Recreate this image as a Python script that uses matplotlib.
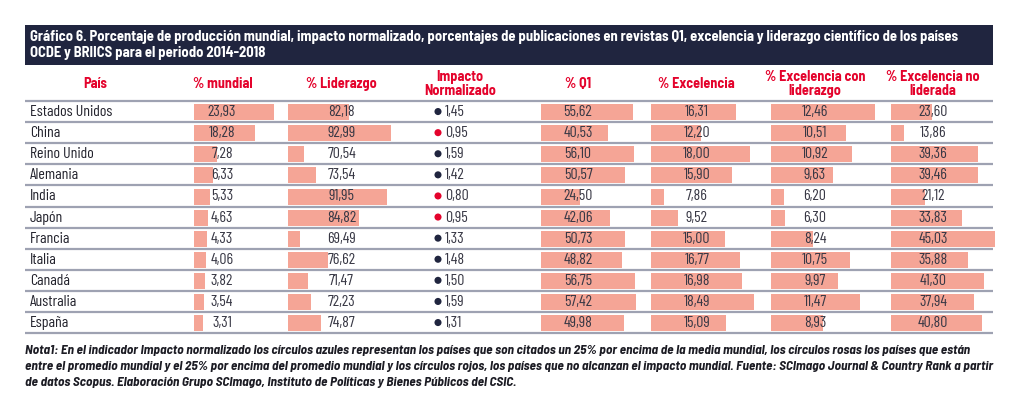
import matplotlib
matplotlib.use("Agg")
import matplotlib.pyplot as plt
from matplotlib import font_manager

paises = ["Estados Unidos", "China", "Reino Unido", "Alemania", "India", "Japón",
          "Francia", "Italia", "Canadá", "Australia", "España"]
mundial = [23.93, 18.28, 7.28, 6.33, 5.33, 4.63, 4.33, 4.06, 3.82, 3.54, 3.31]
liderazgo = [82.18, 92.99, 70.54, 73.54, 91.95, 84.82, 69.49, 76.62, 71.47, 72.23, 74.87]
impacto = [1.45, 0.95, 1.59, 1.42, 0.80, 0.95, 1.33, 1.48, 1.50, 1.59, 1.31]
q1 = [55.62, 40.53, 56.10, 50.57, 24.50, 42.06, 50.73, 48.82, 56.75, 57.42, 49.98]
excelencia = [16.31, 12.20, 18.00, 15.90, 7.86, 9.52, 15.00, 16.77, 16.98, 18.49, 15.09]
exc_lider = [12.46, 10.51, 10.92, 9.63, 6.20, 6.30, 8.24, 10.75, 9.97, 11.47, 8.93]
exc_no_lider = [23.60, 13.86, 39.36, 39.46, 21.12, 33.83, 45.03, 35.88, 41.30, 37.94, 40.80]

titulo = ["Gráfico 6. Porcentaje de producción mundial, impacto normalizado, porcentajes de "
          "publicaciones en revistas Q1, excelencia y liderazgo científico de los países",
          "OCDE y BRIICS para el periodo 2014-2018"]
nota = ["Nota1: En el indicador Impacto normalizado los círculos azules representan los países que son "
        "citados un 25% por encima de la media mundial, los círculos rosas los países que están",
        "entre el promedio mundial y el 25% por encima del promedio mundial y los círculos rojos, los "
        "países que no alcanzan el impacto mundial. Fuente: SCImago Journal & Country Rank a partir",
        "de datos Scopus. Elaboración Grupo SCImago, Instituto de Políticas y Bienes Públicos del CSIC."]

# condensed faces if present, otherwise plain DejaVu a bit smaller
installed = {f.name for f in font_manager.fontManager.ttflist}
if "Barlow Semi Condensed" in installed and "Barlow Condensed" in installed:
    HEAD_FONT = ["Barlow Semi Condensed", "DejaVu Sans"]
    BODY_FONT = ["Barlow Condensed", "DejaVu Sans"]
    scale, body_scale = 1.0, 1.0
else:
    HEAD_FONT = BODY_FONT = ["DejaVu Sans"]
    scale, body_scale = 0.8, 0.75
plt.rcParams["font.family"] = HEAD_FONT

NAVY = "#20253f"
RED = "#e4032c"
BAR = "#f5a596"
LINE = "#9ea2b2"
TXT = "#383845"

fig = plt.figure(figsize=(10.24, 4.09), dpi=100)
ax = fig.add_axes([0, 0, 1, 1])
ax.set_xlim(0, 1024)
ax.set_ylim(409, 0)
ax.axis("off")

x0, x1 = 25, 993
row_top = 101
row_h = 21.1

# title band
ax.add_patch(plt.Rectangle((x0, 25), x1 - x0, 40, color=NAVY, lw=0))
for k, line in enumerate(titulo):
    ax.text(30, 37.5 + 16 * k, line, color="white", fontsize=10.5 * scale,
            fontweight="bold", va="center", ha="left")

# column headers
headers = [("País", 95), ("% mundial", 223), ("% Liderazgo", 341.5),
           ("Impacto\nNormalizado", 460), ("% Q1", 578), ("% Excelencia", 696),
           ("% Excelencia con\nliderazgo", 815), ("% Excelencia no\nliderada", 933)]
for label, cx in headers:
    ax.text(cx, 84, label, color=RED, fontsize=10.2 * scale, fontweight="bold",
            ha="center", va="center", linespacing=1.0)

# data-bar columns: values, bar start, max bar length, scale floor, text centre
columnas = [
    (mundial, 194, 80, 0.70, 222),
    (liderazgo, 288, 103, 66.4, 341.5),
    (q1, 541.3, 95, 1.45, 578),
    (excelencia, 651.3, 103, 6.32, 697),
    (exc_lider, 771.3, 103.3, 5.35, 815),
    (exc_no_lider, 891.3, 103.3, 9.65, 933),
]


def fmt(v):
    return f"{v:.2f}".replace(".", ",")


centros = [row_top + row_h * (i + 0.5) for i in range(len(paises))]
body = dict(fontsize=11.4 * body_scale, family=BODY_FONT, va="center", zorder=3)

for vals, start, maxlen, lo, cx in columnas:
    hi = max(vals)
    widths = [(v - lo) / (hi - lo) * maxlen for v in vals]
    ax.barh([c + 0.6 for c in centros], widths, height=16, left=start,
            color=BAR, lw=0, zorder=1)
    for v, c in zip(vals, centros):
        ax.text(cx, c + 0.5, fmt(v), color=TXT, ha="center", **body)

# country names
for p, c in zip(paises, centros):
    ax.text(30, c + 0.5, p, color="#23232d", ha="left", **body)

# impact dots
dot_col = [NAVY if v >= 1.25 else ("#f4a3b4" if v >= 1 else RED) for v in impacto]
ax.scatter([438] * len(impacto), centros, s=26, c=dot_col, lw=0, zorder=3)
for v, c in zip(impacto, centros):
    ax.text(445, c + 0.5, fmt(v), color=TXT, ha="left", **body)

# row lines
for i in range(len(paises) + 1):
    y = row_top + row_h * i
    ax.plot([x0, x1], [y, y], color=LINE, lw=1.6, zorder=2,
            solid_capstyle="butt")

for k, line in enumerate(nota):
    ax.text(x0, 350 + 16.5 * k, line, color="#1c1c24", fontsize=9.6 * scale,
            fontweight="bold", style="italic", ha="left", va="center")

fig.savefig("out.png", dpi=100)
